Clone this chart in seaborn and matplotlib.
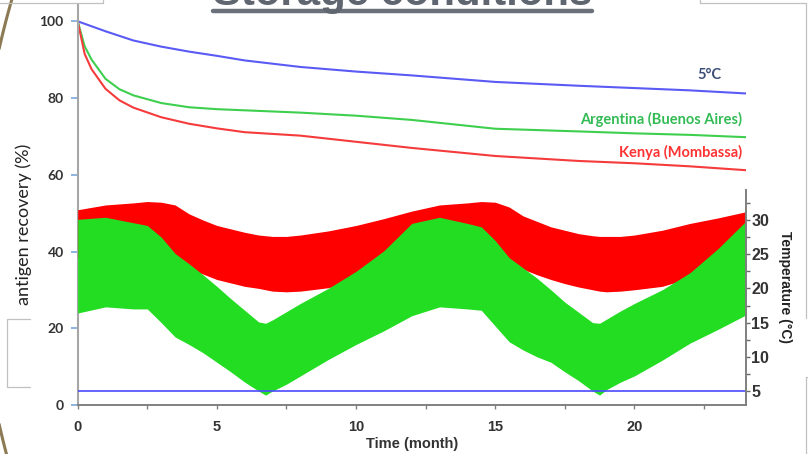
import numpy as np
import pandas as pd
import matplotlib
matplotlib.use("Agg")
import matplotlib.pyplot as plt
from matplotlib.lines import Line2D
from matplotlib.ticker import MultipleLocator
import seaborn as sns

# ---------------------------------------------------------------------------
# Antigen recovery (%) during storage, by storage condition
# ---------------------------------------------------------------------------
recovery_months = [0, 0.25, 0.5, 1, 1.5, 2, 3, 4, 5, 6, 8, 10, 12, 15, 18, 20, 22, 24]
recovery_5c = [100, 99.35, 98.7, 97.4, 96.2, 95.0, 93.4, 92.1, 91.0, 89.8, 88.1,
               86.9, 85.9, 84.2, 83.2, 82.6, 82.0, 81.2]
recovery_argentina = [100, 93.5, 90.0, 85.0, 82.3, 80.7, 78.7, 77.6, 77.1, 76.8, 76.2,
                      75.4, 74.3, 72.0, 71.3, 70.8, 70.4, 69.8]
recovery_kenya = [100, 91.5, 87.5, 82.4, 79.4, 77.5, 75.0, 73.3, 72.1, 71.1, 70.2,
                  68.6, 67.0, 64.9, 63.6, 63.0, 62.2, 61.2]

series_labels = ["5°C", "Argentina (Buenos Aires)", "Kenya (Mombassa)"]

# ---------------------------------------------------------------------------
# Daily temperature range (°C) at the two field sites
# ---------------------------------------------------------------------------
temp_months = [0, 1, 2, 2.5, 3, 3.5, 4, 4.5, 5, 5.5, 6, 6.5, 6.75, 7, 7.5, 8, 9, 10, 11, 12,
               13, 14, 14.5, 15, 15.5, 16, 16.5, 17, 17.5, 18, 18.5, 18.75, 19, 19.5, 20,
               21, 22, 23, 24]
argentina_tmax = [30.1, 30.4, 29.6, 29.2, 27.5, 25.1, 23.6, 22.0, 20.3, 18.5, 16.8, 15.1,
                  14.9, 15.4, 16.6, 17.8, 20.0, 22.5, 25.5, 29.5,
                  30.4, 29.5, 29.0, 27.0, 24.5, 23.0, 21.5, 19.8, 18.0, 16.5, 15.0, 14.9,
                  15.5, 16.7, 17.8, 19.8, 22.3, 25.8, 29.8]
argentina_tmin = [16.4, 17.3, 17.0, 17.0, 15.0, 12.9, 11.8, 10.6, 9.2, 7.8, 6.3, 5.0,
                  4.4, 5.0, 6.0, 7.2, 9.6, 11.8, 13.8, 16.0,
                  17.3, 17.0, 16.8, 14.5, 12.2, 11.0, 10.0, 9.2, 7.8, 6.5, 5.0, 4.4,
                  5.2, 6.3, 7.2, 9.5, 12.0, 14.0, 16.1]
kenya_tmax = [31.5, 32.2, 32.5, 32.7, 32.6, 32.2, 30.9, 30.0, 29.2, 28.7, 28.2, 27.8,
              27.7, 27.6, 27.6, 27.8, 28.4, 29.2, 30.2, 31.3,
              32.2, 32.5, 32.7, 32.6, 31.9, 30.6, 29.8, 29.0, 28.5, 28.0, 27.7, 27.6,
              27.6, 27.6, 27.8, 28.5, 29.5, 30.3, 31.2]
kenya_tmin = [24.5, 25.0, 25.2, 25.0, 24.5, 23.5, 22.8, 22.1, 21.3, 20.8, 20.3, 20.0,
              19.8, 19.6, 19.5, 19.6, 20.1, 21.0, 22.5, 24.0,
              25.0, 25.2, 25.0, 24.5, 23.5, 22.8, 22.0, 21.3, 20.7, 20.2, 19.8, 19.6,
              19.5, 19.6, 19.8, 20.3, 21.5, 23.0, 24.5]
fridge_months = [0, 24]
fridge_temp = [5, 5]

x_ticks = [0, 5, 10, 15, 20]
recovery_ticks = [0, 20, 40, 60, 80, 100]
temp_ticks = [5, 10, 15, 20, 25, 30]

# ---------------------------------------------------------------------------
sns.set_theme(style="white")
plt.rcParams["font.family"] = ["Liberation Sans", "DejaVu Sans"]

W, H = 808, 454
fig = plt.figure(figsize=(W / 100, H / 100), dpi=100)
fig.patch.set_facecolor("white")


def fx(px):
    return np.asarray(px, dtype=float) / W


def fy(py):
    return 1 - np.asarray(py, dtype=float) / H


x0, x1 = 77.7, 745.7
y_bottom, y_top, y_temp_top = 405, 5, 190
ax = fig.add_axes([fx(x0), fy(y_bottom), (x1 - x0) / W, (y_bottom - y_top) / H])
ax_t = fig.add_axes([fx(x0), fy(y_bottom), (x1 - x0) / W, (y_bottom - y_temp_top) / H])
ax_t.set_facecolor("none")
ax.set_facecolor("white")

line_colors = ["#5a5af5", "#3fcf4f", "#f53b3b"]
label_colors = ["#3b4e78", "#33bb55", "#ff3333"]

rec = pd.DataFrame({
    "month": recovery_months * 3,
    "recovery": recovery_5c + recovery_argentina + recovery_kenya,
    "condition": np.repeat(series_labels, len(recovery_months)),
})
sns.lineplot(data=rec, x="month", y="recovery", hue="condition",
             palette=dict(zip(series_labels, line_colors)), linewidth=1.5,
             legend=False, ax=ax)

# temperature bands (daily min/max), Kenya below Argentina
ax_t.fill_between(temp_months, kenya_tmin, kenya_tmax, color="#ff0000", linewidth=0)
ax_t.fill_between(temp_months, argentina_tmin, argentina_tmax, color="#22dd22", linewidth=0)
sns.lineplot(x=fridge_months, y=fridge_temp, color="#4a4aff", linewidth=1.2, ax=ax_t)

# ---- main axis styling
ax.set_xlim(0, 24)
ax.set_ylim(0, (y_bottom - y_top) / 3.837)
ax.set_xticks(x_ticks)
ax.xaxis.set_minor_locator(MultipleLocator(2.5))
ax.set_yticks(recovery_ticks)
for s in ["top", "right"]:
    ax.spines[s].set_visible(False)
ax.spines["left"].set_color("#a6a6a6")
ax.spines["left"].set_linewidth(1.5)
ax.spines["bottom"].set_color("#808080")
ax.spines["bottom"].set_linewidth(1.4)
ax.tick_params(axis="y", which="major", direction="out", length=5, width=1.1,
               color="#6f9fd8", pad=5, left=True)
ax.tick_params(axis="x", which="both", direction="out", length=3, width=1.0,
               color="#808080", pad=8, bottom=True)
for lab in ax.get_yticklabels():
    lab.set_fontfamily(["Lato", "DejaVu Sans"])
    lab.set_fontweight("bold")
    lab.set_fontsize(10)
    lab.set_color("#333333")
for lab in ax.get_xticklabels():
    lab.set_fontweight("bold")
    lab.set_fontsize(10.5)
    lab.set_color("#333333")

ax.set_xlabel("Time (month)", fontsize=10.5, fontweight="bold", color="#333333")
ax.xaxis.set_label_coords(0.5, (y_bottom - 437) / (y_bottom - y_top))
ax.set_ylabel("antigen recovery (%)", fontsize=13, color="#222222",
              fontfamily=["Lato", "DejaVu Sans"])
ax.yaxis.set_label_coords((24 - x0) / (x1 - x0), (y_bottom - 224) / (y_bottom - y_top))
ax.yaxis.label.set_va("center")

# series labels
label_pos = [(23.14, 86.0), (23.86, 74.3), (23.86, 65.7)]
for text, (lx, ly), c in zip(series_labels, label_pos, label_colors):
    ax.text(lx, ly, text, ha="right", va="center", color=c, fontsize=10.5,
            fontweight="bold", fontfamily=["Lato", "DejaVu Sans"])

# ---- temperature axis styling
ax_t.set_xlim(0, 24)
ax_t.set_ylim((425.2 - y_bottom) / 6.84, (425.2 - y_temp_top) / 6.84)
ax_t.set_xticks([])
for s in ["top", "left", "bottom"]:
    ax_t.spines[s].set_visible(False)
ax_t.spines["right"].set_color("#7f7f7f")
ax_t.spines["right"].set_linewidth(1.4)
ax_t.yaxis.tick_right()
ax_t.set_yticks(temp_ticks)
ax_t.yaxis.set_minor_locator(MultipleLocator(2.5))
ax_t.tick_params(axis="y", which="both", direction="out", length=3, width=1.0,
                 color="#666666", pad=1, right=True, left=False)
for lab in ax_t.get_yticklabels():
    lab.set_fontfamily(["Liberation Sans Narrow", "Liberation Sans", "DejaVu Sans"])
    lab.set_fontweight("bold")
    lab.set_fontsize(11.5)
    lab.set_color("#333333")
ax_t.yaxis.set_label_position("right")
ax_t.set_ylabel("Temperature (°C)", rotation=270, fontsize=10, fontweight="bold",
                color="#222222",
                fontfamily=["Liberation Sans Narrow", "Liberation Sans", "DejaVu Sans"])
ax_t.yaxis.set_label_coords((785 - x0) / (x1 - x0), (y_bottom - 287) / (y_bottom - y_temp_top))
ax_t.yaxis.label.set_va("center")

# ---- slide title (clipped by the top edge) with underline
title = fig.text(fx(402.5), fy(5), "Storage conditions", ha="center", va="baseline",
                 fontsize=20, fontweight="bold", color="#5f6670")
renderer = fig.canvas.get_renderer()
w = title.get_window_extent(renderer).width
title.set_fontsize(20 * 379 / w)
fig.add_artist(Line2D(fx([213, 592]), fy([11, 11]), color="#6a717a",
                      linewidth=3.2, transform=fig.transFigure))

# ---- slide decorations: curved frame edge at the left and placeholder boxes
arc_cx, arc_cy, arc_r = 829.9, 236.5, 851.7
for seg in (np.linspace(-2, 60, 40), np.linspace(415, 456, 30)):
    arc_x = arc_cx - np.sqrt(arc_r ** 2 - (seg - arc_cy) ** 2)
    fig.add_artist(Line2D(fx(arc_x), fy(seg), color="#8c7a55", linewidth=2.2,
                          transform=fig.transFigure, solid_capstyle="butt"))
box = dict(color="#c0c0c0", linewidth=0.9, transform=fig.transFigure)
for xs, ys in [
    ([0, 103, 103], [3, 3, 0]),
    ([700, 700, 806, 806], [0, 3, 3, 318]),
    ([808, 806, 806], [377, 377, 454]),
    ([30, 7, 7, 30], [319, 319, 387, 387]),
]:
    fig.add_artist(Line2D(fx(xs), fy(ys), **box))

fig.savefig("out.png", dpi=100, facecolor="white")
